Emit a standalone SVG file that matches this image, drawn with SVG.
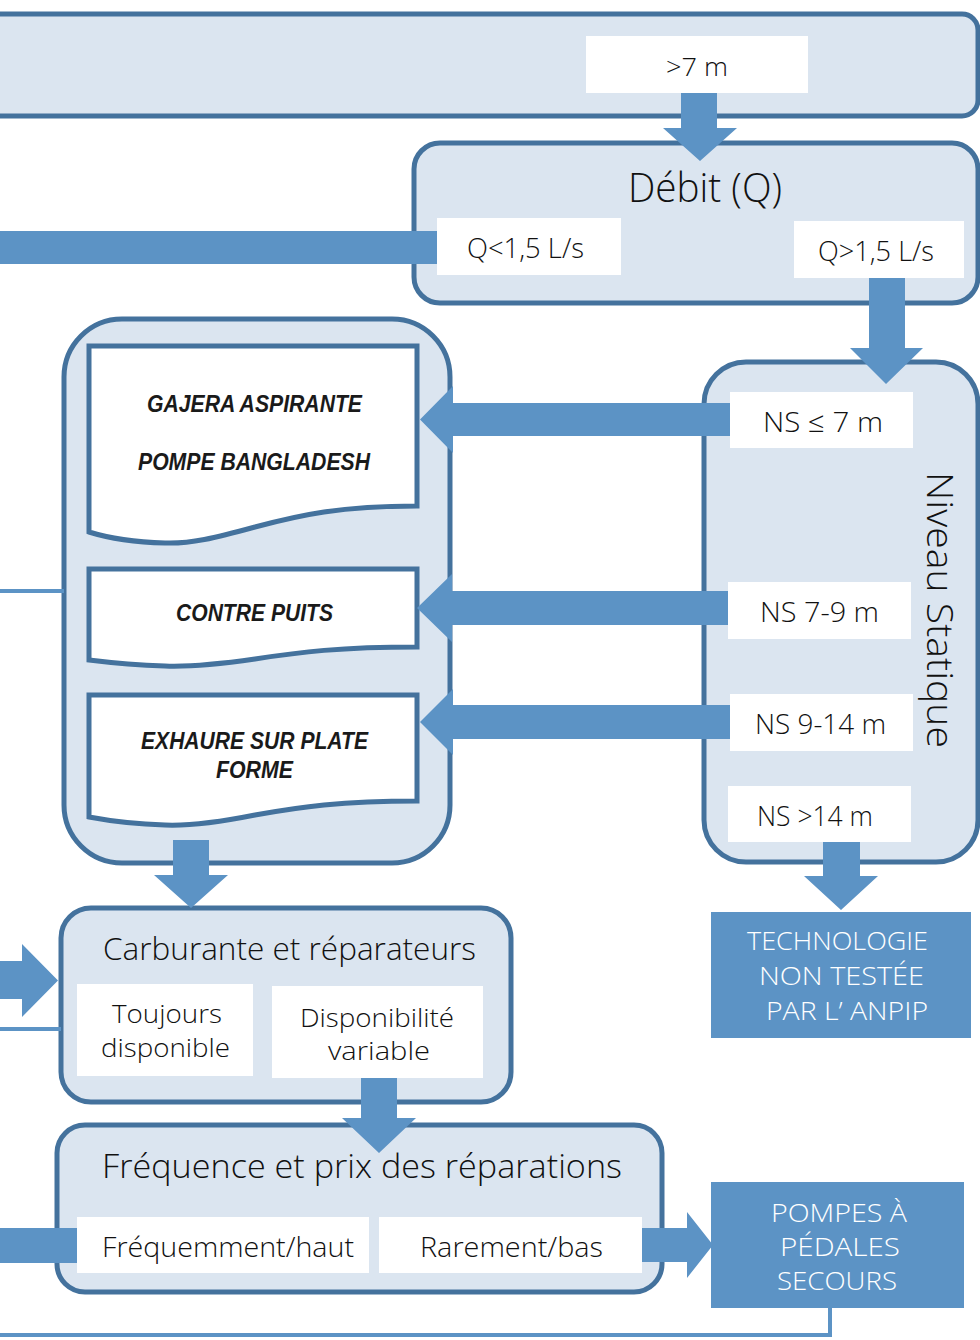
<svg xmlns="http://www.w3.org/2000/svg" width="980" height="1340" viewBox="0 0 980 1340">
<style>
.box{fill:#dbe5f0;stroke:#44729d;stroke-width:5}
.opt{fill:#ffffff}
.doc{fill:#ffffff;stroke:#44729d;stroke-width:5;stroke-linejoin:miter}
.term{fill:#5c93c5}
.arr{fill:#5c93c5}
.ln{fill:none;stroke:#5c93c5;stroke-width:4}
.t{font-family:"Open Sans","Liberation Sans",sans-serif;font-weight:300;fill:#111111}
.tw{font-family:"Open Sans","Liberation Sans",sans-serif;font-weight:300;fill:#ffffff}
.tb{font-family:"Liberation Sans","DejaVu Sans",sans-serif;font-weight:bold;font-style:italic;fill:#1a1a1a;font-size:23px}
</style>
<rect width="980" height="1340" fill="#ffffff"/>

<g id="hauteur">
<rect class="box" x="-20" y="14" width="998" height="102" rx="16"/>
<rect class="opt" x="586" y="36" width="222" height="57"/>
<text class="t" x="666" y="76" font-size="26" textLength="62" lengthAdjust="spacingAndGlyphs">&gt;7 m</text>
</g>

<g id="debit">
<rect class="box" x="414" y="143" width="564" height="160" rx="26"/>
<text class="t" x="628" y="202" font-size="40" textLength="154" lengthAdjust="spacingAndGlyphs">Débit (Q)</text>
<rect class="opt" x="437" y="218" width="184" height="57"/>
<text class="t" x="467" y="258" font-size="28" textLength="117" lengthAdjust="spacingAndGlyphs">Q&lt;1,5 L/s</text>
<rect class="opt" x="794" y="221" width="170" height="57"/>
<text class="t" x="818" y="261" font-size="28" textLength="116" lengthAdjust="spacingAndGlyphs">Q&gt;1,5 L/s</text>
</g>

<g id="pompes-manuelles">
<rect class="box" x="64" y="319" width="386" height="544" rx="58"/>
</g>

<g id="gajera">
<path class="doc" d="M89,346 H417 V506 C340,506 300,515 255,527 C215,538 190,544 165,543 C130,542 105,537 89,532 Z"/>
<text class="tb" x="147" y="412" textLength="215" lengthAdjust="spacingAndGlyphs">GAJERA ASPIRANTE</text>
<text class="tb" x="138" y="470" textLength="232" lengthAdjust="spacingAndGlyphs">POMPE BANGLADESH</text>
</g>

<g id="contre-puits">
<path class="doc" d="M89,569 H417 V647 C340,647 300,652 255,659 C220,664 190,667 165,666 C130,665 105,662 89,660 Z"/>
<text class="tb" x="176" y="621" textLength="157" lengthAdjust="spacingAndGlyphs">CONTRE PUITS</text>
</g>

<g id="exhaure">
<path class="doc" d="M89,695 H417 V801 C340,801 300,807 255,815 C220,822 190,826 165,825 C130,824 105,820 89,817 Z"/>
<text class="tb" x="141" y="749" textLength="227" lengthAdjust="spacingAndGlyphs">EXHAURE SUR PLATE</text>
<text class="tb" x="216" y="778" textLength="77" lengthAdjust="spacingAndGlyphs">FORME</text>
</g>

<g id="niveau-statique">
<rect class="box" x="704" y="362" width="274" height="500" rx="42"/>
<text class="t" font-size="36" transform="translate(927,472) rotate(90)" textLength="276" lengthAdjust="spacingAndGlyphs">Niveau Statique</text>
<rect class="opt" x="730" y="392" width="183" height="56"/>
<text class="t" x="763" y="432" font-size="28" textLength="120" lengthAdjust="spacingAndGlyphs">NS ≤ 7 m</text>
<rect class="opt" x="728" y="582" width="183" height="57"/>
<text class="t" x="760" y="622" font-size="28" textLength="119" lengthAdjust="spacingAndGlyphs">NS 7-9 m</text>
<rect class="opt" x="730" y="694" width="183" height="57"/>
<text class="t" x="755" y="734" font-size="28" textLength="131" lengthAdjust="spacingAndGlyphs">NS 9-14 m</text>
<rect class="opt" x="728" y="786" width="183" height="56"/>
<text class="t" x="757" y="826" font-size="28" textLength="116" lengthAdjust="spacingAndGlyphs">NS &gt;14 m</text>
</g>

<g id="technologie">
<rect class="term" x="711" y="912" width="260" height="126"/>
<text class="tw" x="747" y="950" font-size="26" textLength="181" lengthAdjust="spacingAndGlyphs">TECHNOLOGIE</text>
<text class="tw" x="759" y="985" font-size="26" textLength="165" lengthAdjust="spacingAndGlyphs">NON TESTÉE</text>
<text class="tw" x="766" y="1020" font-size="26" textLength="162" lengthAdjust="spacingAndGlyphs">PAR L’ ANPIP</text>
</g>

<g id="carburante">
<rect class="box" x="61" y="908" width="450" height="194" rx="30"/>
<text class="t" x="103" y="960" font-size="31" textLength="373" lengthAdjust="spacingAndGlyphs">Carburante et réparateurs</text>
<rect class="opt" x="77" y="984" width="176" height="92"/>
<text class="t" x="112" y="1023" font-size="25" textLength="110" lengthAdjust="spacingAndGlyphs">Toujours</text>
<text class="t" x="101" y="1057" font-size="25" textLength="129" lengthAdjust="spacingAndGlyphs">disponible</text>
<rect class="opt" x="272" y="986" width="211" height="92"/>
<text class="t" x="300" y="1027" font-size="25" textLength="154" lengthAdjust="spacingAndGlyphs">Disponibilité</text>
<text class="t" x="328" y="1060" font-size="25" textLength="102" lengthAdjust="spacingAndGlyphs">variable</text>
</g>

<g id="frequence">
<rect class="box" x="57" y="1125" width="605" height="167" rx="28"/>
<text class="t" x="102" y="1178" font-size="33" textLength="520" lengthAdjust="spacingAndGlyphs">Fréquence et prix des réparations</text>
<rect class="opt" x="77" y="1217" width="292" height="56"/>
<text class="t" x="102" y="1257" font-size="28" textLength="252" lengthAdjust="spacingAndGlyphs">Fréquemment/haut</text>
<rect class="opt" x="379" y="1217" width="263" height="56"/>
<text class="t" x="420" y="1257" font-size="28" textLength="183" lengthAdjust="spacingAndGlyphs">Rarement/bas</text>
</g>

<g id="pompes-pedales">
<rect class="term" x="711" y="1182" width="253" height="126"/>
<text class="tw" x="771" y="1222" font-size="26" textLength="136" lengthAdjust="spacingAndGlyphs">POMPES À</text>
<text class="tw" x="780" y="1256" font-size="26" textLength="120" lengthAdjust="spacingAndGlyphs">PÉDALES</text>
<text class="tw" x="777" y="1290" font-size="26" textLength="120" lengthAdjust="spacingAndGlyphs">SECOURS</text>
</g>

<g id="connectors">
<polygon class="arr" points="681,93 717,93 717,128 737,128 700,161 663,128 681,128"/>
<rect class="arr" x="0" y="231" width="437" height="33"/>
<polygon class="arr" points="869,278 905,278 905,348 923,348 886,384 850,348 869,348"/>
<polygon class="arr" points="730,403 453,403 453,386 420,419.5 453,453 453,436 730,436"/>
<polygon class="arr" points="728,591 452,591 452,574 417,608 452,642 452,625 728,625"/>
<polygon class="arr" points="730,705 453,705 453,689 420,722 453,755 453,739 730,739"/>
<line class="ln" x1="0" y1="591" x2="64" y2="591"/>
<polygon class="arr" points="173,840 209,840 209,875 228,875 191,908 154,875 173,875"/>
<polygon class="arr" points="823,842 860,842 860,876 878,876 841,910 804,876 823,876"/>
<polygon class="arr" points="0,961 22,961 22,944 58,980.5 22,1017 22,999 0,999"/>
<line class="ln" x1="0" y1="1029" x2="61" y2="1029"/>
<polygon class="arr" points="361,1078 397,1078 397,1118 416,1118 379,1153 342,1118 361,1118"/>
<rect class="arr" x="0" y="1228" width="77" height="35"/>
<polygon class="arr" points="642,1228 687,1228 687,1212 713,1245 687,1278 687,1262 642,1262"/>
<polyline class="ln" points="830,1308 830,1335 0,1335"/>
</g>
</svg>
